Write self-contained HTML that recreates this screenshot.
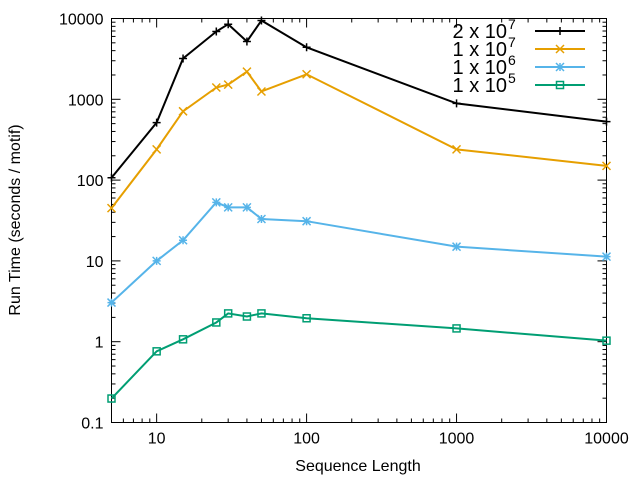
<!DOCTYPE html>
<html><head><meta charset="utf-8"><style>
body{margin:0;background:#fff}
svg text{font-family:"Liberation Sans",Arial,sans-serif;font-size:16px;fill:#000}
svg text.leg{font-size:20px}
svg text.sup{font-size:14px}
</style></head><body>
<svg id="chart" width="640" height="480" xmlns="http://www.w3.org/2000/svg"></svg>
<script>
const xValues=[5,10,15,25,30,40,50,100,1000,10000];
const seriesLabels=["2 x 10","1 x 10","1 x 10","1 x 10"];
const seriesExp=["7","7","6","5"];
const seriesColors=["#000000","#e69f00","#56b4e9","#009e73"];
const s2e7=[107,515,3200,6900,8500,5200,9450,4400,890,530];
const s1e7=[45,240,710,1400,1520,2200,1250,2040,240,150];
const s1e6=[3.05,10,18,53,46,46,33,31,15,11.3];
const s1e5=[0.198,0.76,1.07,1.73,2.24,2.05,2.24,1.95,1.46,1.03];
const series=[s2e7,s1e7,s1e6,s1e5];
const xTicks=[10,100,1000,10000];
const xTickLabels=["10","100","1000","10000"];
const yTicks=[0.1,1,10,100,1000,10000];
const yTickLabels=["0.1","1","10","100","1000","10000"];

const NS="http://www.w3.org/2000/svg";
const svg=document.getElementById('chart');
const L=111.5,R=606.5,T=18.5,B=422.5;
const xMin=Math.log10(5),xMax=4,yMin=-1,yMax=4;
const X=v=>L+(Math.log10(v)-xMin)/(xMax-xMin)*(R-L);
const Y=v=>B-(Math.log10(v)-yMin)/(yMax-yMin)*(B-T);
function el(t,a,p){const e=document.createElementNS(NS,t);for(const k in a)e.setAttribute(k,a[k]);(p||svg).appendChild(e);return e;}

const axes=el('g',{});


el('rect',{x:L,y:T,width:R-L,height:B-T,fill:'none',stroke:'#000','stroke-width':1},axes);
for(let d=0;d<=4;d++){for(let m=1;m<10;m++){const v=m*Math.pow(10,d);if(v<5||v>10000)continue;const x=X(v);const len=(m===1)?9:4;
el('line',{x1:x,y1:B,x2:x,y2:B-len,stroke:'#000'},axes);el('line',{x1:x,y1:T,x2:x,y2:T+len,stroke:'#000'},axes);}}
for(let d=-1;d<=4;d++){for(let m=1;m<10;m++){const v=m*Math.pow(10,d);if(v>10000)continue;const y=Y(v);const len=(m===1)?9:4;
el('line',{x1:L,y1:y,x2:L+len,y2:y,stroke:'#000'},axes);el('line',{x1:R,y1:y,x2:R-len,y2:y,stroke:'#000'},axes);}}
xTicks.forEach((v,i)=>{const t=el('text',{x:X(v),y:B+21,'text-anchor':'middle'},axes);t.textContent=xTickLabels[i];
});
yTicks.forEach((v,i)=>{const t=el('text',{x:L-8,y:Y(v)+6,'text-anchor':'end'},axes);t.textContent=yTickLabels[i];
});
const xt=el('text',{x:358,y:471,'text-anchor':'middle'});xt.textContent='Sequence Length';

const yt=el('text',{x:20,y:220,'text-anchor':'middle',transform:'rotate(-90 20 220)'});yt.textContent='Run Time (seconds / motif)';


function marker(g,k,x,y,c){const s=4;
if(k===0){el('path',{d:`M${x-s} ${y}H${x+s}M${x} ${y-s}V${y+s}`,stroke:c,'stroke-width':1.5,fill:'none'},g);}
else if(k===1){el('path',{d:`M${x-s} ${y-s}L${x+s} ${y+s}M${x-s} ${y+s}L${x+s} ${y-s}`,stroke:c,'stroke-width':1.5,fill:'none'},g);}
else if(k===2){el('path',{d:`M${x-s} ${y}H${x+s}M${x} ${y-s}V${y+s}M${x-s} ${y-s}L${x+s} ${y+s}M${x-s} ${y+s}L${x+s} ${y-s}`,stroke:c,'stroke-width':1.5,fill:'none'},g);}
else {el('rect',{x:x-3.5,y:y-3.5,width:7,height:7,stroke:c,'stroke-width':1.5,fill:'none'},g);}}

series.forEach((vals,k)=>{const g=el('g',{});


const c=seriesColors[k];
el('polyline',{points:vals.map((v,i)=>X(xValues[i])+','+Y(v)).join(' '),fill:'none',stroke:c,'stroke-width':2},g);
vals.forEach((v,i)=>marker(g,k,X(xValues[i]),Y(v),c));
const ly=31+k*18;
const lg=el('g',{},g);


const t=el('text',{x:507,y:ly+7,'text-anchor':'end','class':'leg'},lg);t.textContent=seriesLabels[k];
const sup=el('text',{x:508,y:ly-2,'class':'sup'},lg);sup.textContent=seriesExp[k];
el('line',{x1:535,y1:ly,x2:585,y2:ly,stroke:c,'stroke-width':2},lg);
marker(lg,k,560,ly,c);
});
</script>
</body></html>
